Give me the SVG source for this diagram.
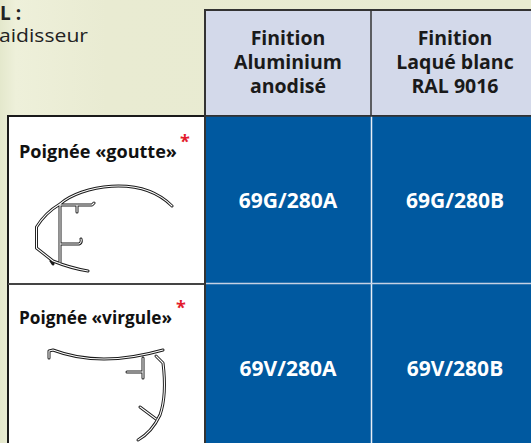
<svg xmlns="http://www.w3.org/2000/svg" width="531" height="443" viewBox="0 0 531 443">
<defs>
<linearGradient id="bg" x1="0" y1="0" x2="1" y2="0">
<stop offset="0" stop-color="#e4e8cc"/>
<stop offset="0.03" stop-color="#eef0da"/>
<stop offset="0.2" stop-color="#e9ebd2"/>
<stop offset="1" stop-color="#e8ebd1"/>
</linearGradient>
</defs>
<style>
.hd{font-family:"Open Sans","Noto Sans",sans-serif;font-weight:bold;font-size:19.5px;fill:#1a1a1a;text-anchor:middle}
.code{font-family:"Open Sans","Noto Sans",sans-serif;font-weight:bold;font-size:21px;fill:#ffffff;text-anchor:middle}
.lab{font-family:"Open Sans","Noto Sans",sans-serif;font-weight:bold;font-size:18px;fill:#111}
.ast{font-family:"Open Sans","Noto Sans",sans-serif;font-weight:bold;font-size:18px;fill:#e31b2d}
.top{font-family:"Open Sans","Noto Sans",sans-serif;font-size:19px;fill:#222}
.po{fill:none;stroke:#1a1a1a;stroke-width:3;stroke-linecap:round;stroke-linejoin:round}
.pi{fill:none;stroke:#ffffff;stroke-width:1.1;stroke-linecap:round;stroke-linejoin:round}
</style>
<rect x="0" y="0" width="531" height="443" fill="url(#bg)"/>
<g id="intro">
<text class="top" x="0" y="20" font-weight="bold">L :</text>
<text class="top" x="-1" y="42" textLength="89" lengthAdjust="spacingAndGlyphs">aidisseur</text>
</g>
<g id="header">
<rect x="205" y="10" width="332" height="106" fill="#d3d9ea" stroke="#333" stroke-width="2"/>
<line x1="371" y1="10" x2="371" y2="116" stroke="#333" stroke-width="1.5"/>
<text class="hd" x="288" y="45">Finition</text>
<text class="hd" x="288" y="69">Aluminium</text>
<text class="hd" x="288" y="93">anodisé</text>
<text class="hd" x="455" y="45">Finition</text>
<text class="hd" x="455" y="69">Laqué blanc</text>
<text class="hd" x="455" y="93">RAL 9016</text>
</g>
<g id="cells">
<rect x="205" y="116" width="332" height="335" fill="#0059a0"/>
<line x1="371.5" y1="116" x2="371.5" y2="443" stroke="#e8eef6" stroke-width="1.5"/>
<line x1="205" y1="283.5" x2="531" y2="283.5" stroke="#c5d1e3" stroke-width="1.5"/>
<text class="code" x="288" y="208">69G/280A</text>
<text class="code" x="455" y="208">69G/280B</text>
<text class="code" x="288" y="376">69V/280A</text>
<text class="code" x="455" y="376">69V/280B</text>
</g>
<g id="left">
<rect x="8" y="116" width="197" height="335" fill="#ffffff" stroke="#1a1a1a" stroke-width="2"/>
<line x1="8" y1="284" x2="205" y2="284" stroke="#444" stroke-width="2"/>
<line x1="205" y1="10" x2="205" y2="443" stroke="#333" stroke-width="2"/>
<line x1="205" y1="116" x2="537" y2="116" stroke="#333" stroke-width="1.5"/>
</g>
<g id="goutte">
<text class="lab" x="19" y="158" textLength="158" lengthAdjust="spacingAndGlyphs">Poignée «goutte»</text>
<text class="ast" x="180" y="148">*</text>
<g>
<path class="po" d="M53 261 L36.5 248 L36.5 227 Q45 213 60 204 C80 186 140 174 172 206 M53 261 Q70 268 88 271 M60 204 V262 M60 205 H92 L94 203 M77 205 V212 M60 244 H79 Q82 243 81 239 M51 261 l2 3"/>
<path class="pi" d="M53 261 L36.5 248 L36.5 227 Q45 213 60 204 C80 186 140 174 172 206 M53 261 Q70 268 88 271 M60 204 V262 M60 205 H92 L94 203 M77 205 V212 M60 244 H79 Q82 243 81 239"/>
</g>
</g>
<g id="virgule">
<text class="lab" x="19" y="324" textLength="153" lengthAdjust="spacingAndGlyphs">Poignée «virgule»</text>
<text class="ast" x="176" y="314">*</text>
<g>
<path class="po" d="M49 358 L49 351 L53 350 Q100 368 163 350 M156 356 L163 363 Q167 395 160 415 Q152 432 138 440 M143 358 V378 M127 372 H143 M156 419 L140 407"/>
<path class="pi" d="M49 358 L49 351 L53 350 Q100 368 163 350 M156 356 L163 363 Q167 395 160 415 Q152 432 138 440 M143 358 V378 M127 372 H143 M156 419 L140 407"/>
</g>
</g>
</svg>
